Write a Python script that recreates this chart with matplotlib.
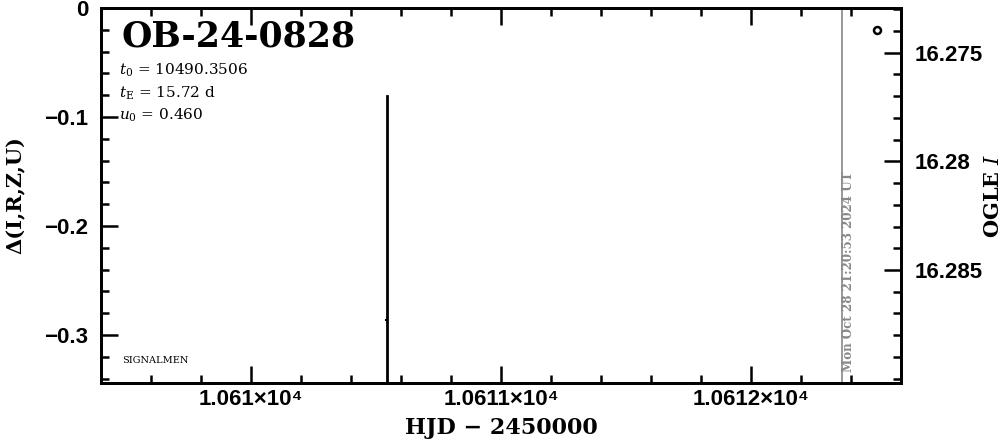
import matplotlib
matplotlib.use("Agg")
import matplotlib.pyplot as plt
from matplotlib.ticker import FixedLocator, MultipleLocator

# Data
event_name = "OB-24-0828"
t0_text = "10490.3506"
tE_text = "15.72 d"
u0_text = "0.460"
x_major_ticks = [10610, 10611, 10612]
x_major_labels = ["1.061\u00d710\u2074", "1.0611\u00d710\u2074", "1.0612\u00d710\u2074"]
left_yticks = [0, -0.1, -0.2, -0.3]
left_ylabels = ["0", "\u22120.1", "\u22120.2", "\u22120.3"]
right_yticks = [16.275, 16.28, 16.285]
right_ylabels = ["16.275", "16.28", "16.285"]
model_x = [10610.544, 10610.544]
model_y = [-0.081, -0.36]
model_mark_y = -0.2865
ogle_hjd = [10612.504]
ogle_mag = [16.27395]
now_hjd = 10612.364
date_text = "Mon Oct 28 21:20:53 2024 UT"

plt.rcParams['font.family'] = ['DejaVu Serif']
plt.rcParams['mathtext.fontset'] = 'dejavuserif'

tick_font = dict(family=['Liberation Sans', 'DejaVu Sans'], weight='bold', size=16)

fig = plt.figure(figsize=(10.04, 4.41), dpi=100)
ax = fig.add_axes([101/1004, 1-383/441, 800/1004, 375/441])
ax.set_xlim(10609.4, 10612.6)
ax.set_ylim(-0.344, 0.0)

ax.plot(model_x, model_y, color='black', lw=2)
ax.plot([model_x[0]-0.005, model_x[0]], [model_mark_y, model_mark_y], color='black', lw=1.5)
ax.axvline(now_hjd, color='#888888', lw=1.2)

ax.xaxis.set_major_locator(FixedLocator(x_major_ticks))
ax.xaxis.set_minor_locator(MultipleLocator(0.2))
ax.set_xticklabels(x_major_labels, fontdict=tick_font)
ax.yaxis.set_major_locator(FixedLocator(left_yticks))
ax.yaxis.set_minor_locator(MultipleLocator(0.02))
ax.set_yticklabels(left_ylabels, fontdict=tick_font)
ax.tick_params(which='both', direction='in', top=True, right=False, width=1.8)
ax.tick_params(which='major', length=12)
ax.tick_params(axis='y', which='major', pad=9)
ax.tick_params(axis='x', which='major', pad=4)
ax.tick_params(which='minor', length=6)
for s in ax.spines.values():
    s.set_linewidth(2)

ax.set_xlabel("HJD \u2212 2450000", fontsize=16, fontweight='bold', va='center')
ax.xaxis.set_label_coords(0.5, -0.12)
ax.set_ylabel("\u0394(I,R,Z,U)", fontsize=15, fontweight='bold', va='center')
ax.yaxis.set_label_coords(-0.107, 0.5)

ax2 = ax.twinx()
ax2.set_ylim(16.2902, 16.27294)
ax2.plot(ogle_hjd, ogle_mag, 'o', mfc='none', mec='black', ms=5, mew=1.8)
ax2.yaxis.set_major_locator(FixedLocator(right_yticks))
ax2.yaxis.set_minor_locator(MultipleLocator(0.001))
ax2.set_yticklabels(right_ylabels, fontdict=tick_font)
ax2.tick_params(which='both', direction='in', width=1.8)
ax2.tick_params(which='major', length=12, pad=10)
ax2.tick_params(which='minor', length=6)
ax2.set_ylabel(r"OGLE $I$", fontsize=15, fontweight='bold', va='center')
ax2.yaxis.set_label_coords(1.115, 0.5)
for s in ax2.spines.values():
    s.set_linewidth(2)

ax.text(0.026, 0.925, event_name, transform=ax.transAxes, fontsize=25,
        fontweight='bold', va='center', ha='left')
ax.text(0.023, 0.835, r"$t_0$ = " + t0_text, transform=ax.transAxes, fontsize=11, va='center')
ax.text(0.023, 0.773, r"$t_{\rm E}$ = " + tE_text, transform=ax.transAxes, fontsize=11, va='center')
ax.text(0.023, 0.715, r"$u_0$ = " + u0_text, transform=ax.transAxes, fontsize=11, va='center')
ax.text(0.026, 0.06, "SIGNALMEN", transform=ax.transAxes, fontsize=7, va='center')
ax.text(now_hjd + 0.025, 0.03, date_text, transform=ax.get_xaxis_transform(), rotation=90,
        fontsize=8.6, color='#888888', fontweight='bold', va='bottom', ha='center')

fig.savefig("out.png", dpi=100)
